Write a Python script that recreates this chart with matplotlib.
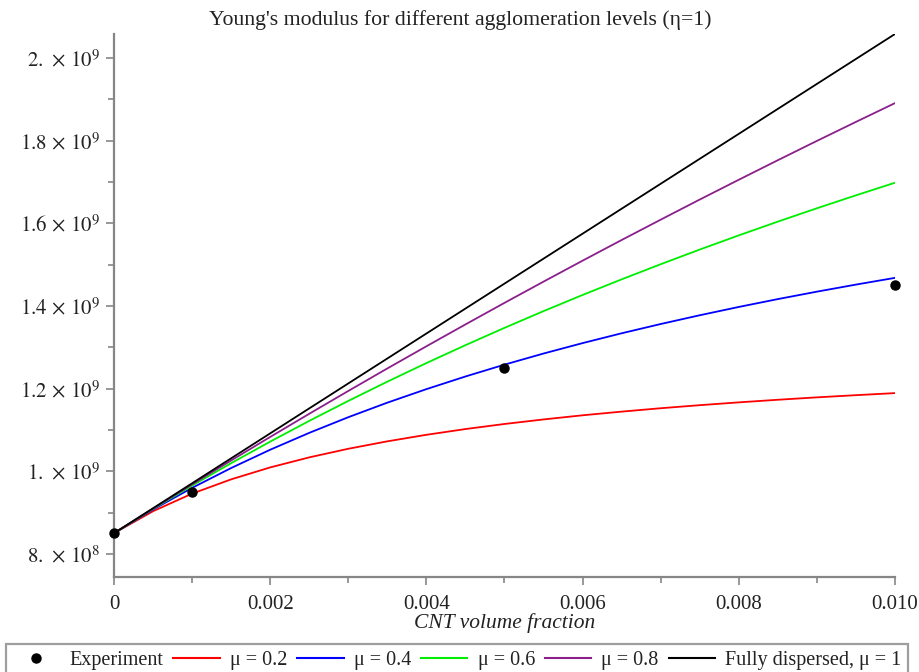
import matplotlib
matplotlib.use("Agg")
import matplotlib.pyplot as plt
from matplotlib.ticker import FixedLocator, MultipleLocator
from matplotlib.lines import Line2D

# CNT volume fraction sample positions
vf = [0.0, 0.0005, 0.001, 0.0015, 0.002, 0.0025, 0.003, 0.0035, 0.004, 0.0045, 0.005,
      0.0055, 0.006, 0.0065, 0.007, 0.0075, 0.008, 0.0085, 0.009, 0.0095, 0.010]

# Young's modulus (in units of 1e9 Pa) for each agglomeration level
E_mu02 = [0.850, 0.9032, 0.9457, 0.9803, 1.0092, 1.0335, 1.0543, 1.0723, 1.0881, 1.1020, 1.1143,
          1.1253, 1.1353, 1.1442, 1.1524, 1.1598, 1.1666, 1.1729, 1.1787, 1.1840, 1.1890]
E_mu04 = [0.850, 0.9073, 0.9597, 1.0077, 1.0520, 1.0928, 1.1307, 1.1659, 1.1986, 1.2292, 1.2579,
          1.2848, 1.3100, 1.3338, 1.3562, 1.3774, 1.3975, 1.4165, 1.4345, 1.4516, 1.4679]
E_mu06 = [0.850, 0.9088, 0.9652, 1.0195, 1.0716, 1.1218, 1.1701, 1.2167, 1.2617, 1.3050, 1.3469,
          1.3874, 1.4265, 1.4643, 1.5009, 1.5364, 1.5707, 1.6040, 1.6363, 1.6676, 1.6981]
E_mu08 = [0.850, 0.9095, 0.9682, 1.0260, 1.0829, 1.1390, 1.1942, 1.2487, 1.3023, 1.3552, 1.4074,
          1.4588, 1.5095, 1.5595, 1.6087, 1.6574, 1.7053, 1.7526, 1.7993, 1.8453, 1.8908]
E_mu10 = [0.850, 0.9104, 0.9708, 1.0312, 1.0916, 1.1520, 1.2124, 1.2728, 1.3332, 1.3936, 1.4540,
          1.5144, 1.5748, 1.6352, 1.6956, 1.7560, 1.8164, 1.8768, 1.9372, 1.9976, 2.0580]

# Measured points
exp_vf = [0.0, 0.001, 0.005, 0.010]
exp_E = [0.85, 0.95, 1.25, 1.45]

series_labels = ["μ = 0.2", "μ = 0.4", "μ = 0.6", "μ = 0.8", "Fully dispersed, μ = 1"]
series_colors = ["#ff0000", "#0000ff", "#00ee00", "#8b1f8b", "#000000"]

y_ticks = [8e8, 1.0e9, 1.2e9, 1.4e9, 1.6e9, 1.8e9, 2.0e9]
y_tick_labels = [r"$8.\,\times\,10^{8}$", r"$1.\,\times\,10^{9}$", r"$1.2\,\times\,10^{9}$",
                 r"$1.4\,\times\,10^{9}$", r"$1.6\,\times\,10^{9}$", r"$1.8\,\times\,10^{9}$",
                 r"$2.\,\times\,10^{9}$"]
x_ticks = [0.0, 0.002, 0.004, 0.006, 0.008, 0.010]
x_tick_labels = ["0", "0.002", "0.004", "0.006", "0.008", "0.010"]

plt.rcParams["font.family"] = ["Liberation Serif", "DejaVu Serif"]
plt.rcParams["mathtext.fontset"] = "stix"

TXT = "#222222"
AXC = "#868686"

fig = plt.figure(figsize=(9.2, 6.72), dpi=100)
ax = fig.add_axes([114 / 920, 1 - 577 / 672, (895 - 114) / 920, (577 - 34) / 672])

scale = 1e9
for vals, lab, col in zip([E_mu02, E_mu04, E_mu06, E_mu08, E_mu10], series_labels, series_colors):
    ax.plot(vf, [v * scale for v in vals], color=col, lw=1.3, label=lab, zorder=2)

ax.plot(exp_vf, [v * scale for v in exp_E], linestyle="none", marker="o", ms=6.5,
        color="black", zorder=3, clip_on=False)

ax.set_xlim(0, 0.010)
ax.set_ylim(7.44e8, 2.058e9)

for side in ("top", "right"):
    ax.spines[side].set_visible(False)
for side in ("left", "bottom"):
    ax.spines[side].set_color(AXC)
    ax.spines[side].set_linewidth(1.6)

ax.yaxis.set_major_locator(FixedLocator(y_ticks))
ax.set_yticklabels(y_tick_labels)
ax.yaxis.set_minor_locator(MultipleLocator(1e8))
ax.xaxis.set_major_locator(FixedLocator(x_ticks))
ax.set_xticklabels(x_tick_labels)
ax.xaxis.set_minor_locator(MultipleLocator(0.001))

ax.tick_params(axis="both", which="major", direction="out", length=6, width=1.2,
               color=AXC, labelsize=15, labelcolor=TXT, pad=4)
ax.tick_params(axis="both", which="minor", direction="out", length=4, width=1.2,
               color=AXC)
ax.tick_params(axis="x", which="major", pad=7)

ax.set_xlabel("CNT volume fraction", fontsize=15.5, fontstyle="italic", labelpad=-1,
              color=TXT)

fig.text(0.5, 1 - 20 / 672, "Young's modulus for different agglomeration levels (η=1)",
         ha="center", va="center", fontsize=15.7, color=TXT)

handles = [Line2D([], [], linestyle="none", marker="o", ms=6.5, color="black")]
handles += [Line2D([], [], color=c, lw=1.5) for c in series_colors]
labels = ["Experiment"] + series_labels
leg = fig.legend(handles, labels, loc="lower center", bbox_to_anchor=(0.497, -0.008),
                 ncol=6, frameon=True, fancybox=False, edgecolor=AXC,
                 fontsize=14.5, handlelength=2.3, handletextpad=0.5, columnspacing=0.5,
                 borderpad=0.35, borderaxespad=0.0)
leg.get_frame().set_linewidth(1.6)
for t in leg.get_texts():
    t.set_color(TXT)

fig.savefig("out.png", dpi=100)
